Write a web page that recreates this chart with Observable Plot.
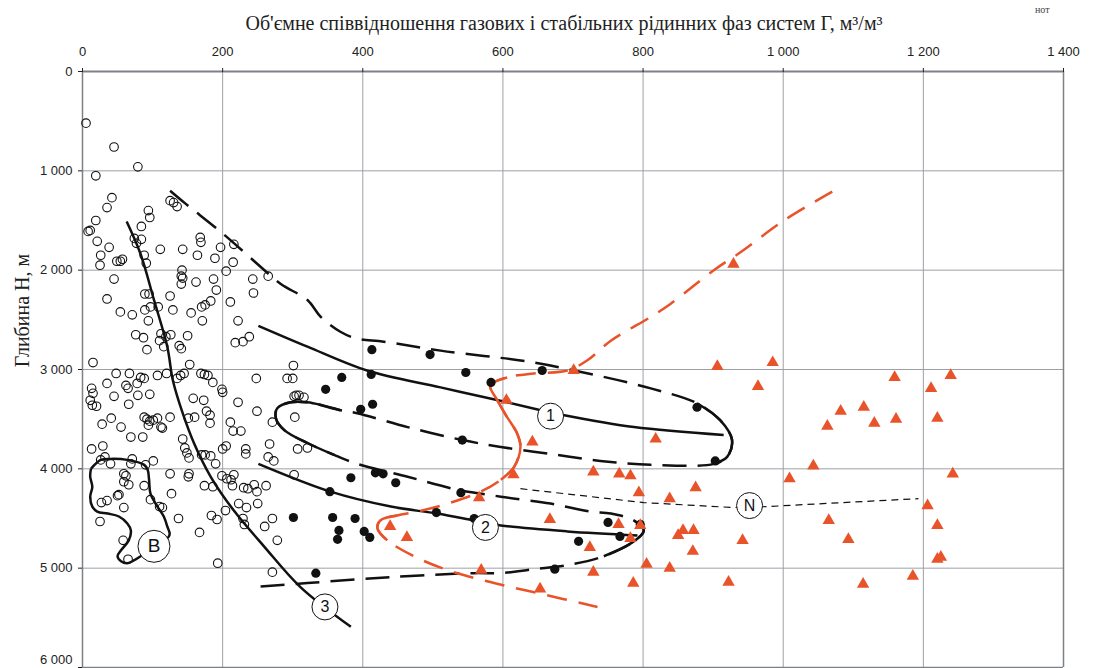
<!DOCTYPE html>
<html>
<head>
<meta charset="utf-8">
<script src="https://cdn.jsdelivr.net/npm/d3@7"></script>
<script src="https://cdn.jsdelivr.net/npm/@observablehq/plot@0.6"></script>
<style>
  html, body { margin: 0; padding: 0; background: #fff; }
</style>
</head>
<body>
<div id="chart"></div>
<script>
// ---- Axis / text ----
const xTicks = [0, 200, 400, 600, 800, 1000, 1200, 1400];
const yTicks = [0, 1000, 2000, 3000, 4000, 5000, 6000];
const titleText = "Об'ємне співвідношення газових і стабільних рідинних фаз систем Г, м³/м³";
const yLabelText = "Глибина Н, м";

// ---- Open circles (x = Г, y = depth H) ----
const openCircles = [
[5,520],[45,760],[79,960],[19,1050],[42,1270],[35,1370],[19,1500],[11,1600],[8,1610],[21,1710],[38,1770],[26,1850],[25,1950],[49,1910],[54,1910],[57,1890],[45,2090],[35,2290],[54,2420],[71,2450],[15,2930],[48,3040],[67,3040],[83,3080],[88,3090],[94,1400],[96,1470],[84,1560],[84,1690],[74,1680],[77,1730],[88,1850],[91,1930],[89,2240],[95,2240],[89,2400],[97,2370],[94,2510],[108,2370],[76,2650],[87,2680],[92,2800],[111,1790],[125,1300],[130,1320],[135,1360],[125,2260],[129,2400],[112,2640],[119,2670],[126,2650],[110,2710],[116,2770],[142,2000],[141,2060],[143,2080],[141,2140],[143,1790],[168,1670],[169,1720],[164,1850],[162,2120],[155,2430],[170,2370],[175,2350],[183,2310],[171,2510],[150,2660],[138,2760],[141,2790],[153,2950],[140,3060],[145,3040],[135,3090],[169,3040],[174,3050],[179,3060],[120,3040],[107,3060],[189,1880],[187,2090],[191,2200],[197,1770],[205,2010],[215,1920],[216,1740],[211,2320],[222,2510],[218,2730],[229,2720],[238,2670],[243,2090],[244,2230],[265,2060],[248,3090],[292,3090],[300,3090],[301,2960],
[35,3140],[13,3190],[15,3240],[11,3310],[14,3360],[20,3370],[62,3160],[65,3190],[78,3140],[45,3270],[79,3260],[96,3250],[66,3350],[28,3550],[41,3490],[55,3580],[69,3680],[86,3680],[88,3480],[92,3500],[96,3520],[101,3510],[94,3560],[107,3490],[112,3580],[114,3590],[125,3480],[158,3290],[173,3310],[186,3130],[199,3200],[200,3230],[222,3330],[249,3420],[177,3420],[182,3460],[182,3540],[151,3490],[160,3480],[143,3700],[146,3790],[149,3840],[152,3890],[170,3860],[175,3860],[183,3870],[190,3950],[211,3530],[215,3620],[226,3620],[205,3770],[200,3800],[233,3800],[233,3850],[199,4070],[206,4100],[212,4110],[216,4060],[214,4170],[230,4190],[236,4200],[245,4160],[249,4230],[262,4170],[174,4170],[186,4180],[223,4350],[234,4390],[250,4350],[229,4500],[231,4560],[271,4500],[260,4580],[278,4720],[184,4470],[192,4510],[204,4420],[167,4640],[137,4500],[127,4250],[125,4050],[151,4080],[152,4050],[193,4950],[271,5040],[13,3800],[26,3910],[32,3880],[29,3770],[40,3950],[71,3900],[69,3950],[90,3960],[101,3920],[59,4050],[62,4070],[66,4160],[59,4130],[88,4170],[50,4270],[52,4260],[59,4390],[27,4340],[35,4320],[25,4530],[97,4310],[110,4380],[114,4390],[58,4720],[65,4910],[305,3260],[302,3270],[271,3530],[303,3480],[267,3750],[265,3880],[273,3920],[307,3800],[302,4060],[309,3260],[316,3280],[321,3790]
];

// ---- Filled black dots ----
const filledDots = [
[413,2800],[496,2850],[547,3030],[583,3130],[656,3010],[370,3080],[347,3200],[412,3050],[414,3350],[397,3400],[542,3710],[418,4040],[429,4050],[447,4140],[383,4090],[353,4230],[540,4240],[505,4440],[559,4500],[301,4490],[357,4490],[389,4500],[366,4620],[364,4710],[402,4630],[410,4690],[333,5050],[877,3380],[903,3920],[750,4540],[767,4680],[796,4560],[708,4730],[674,5010]
];

// ---- Orange triangles ----
const triangles = [
[605,3310],[701,3010],[642,3730],[615,4060],[818,3700],[906,2970],[985,2930],[964,3170],[729,4030],[766,4050],[782,4070],[794,4240],[838,4300],[875,4190],[1009,4100],[667,4510],[765,4560],[796,4570],[782,4700],[724,4790],[857,4620],[872,4620],[850,4670],[942,4720],[871,4830],[805,4960],[838,5000],[729,5040],[786,5150],[922,5140],[653,5210],[566,4290],[439,4580],[463,4690],[569,5020],[1159,3080],[1239,3060],[1211,3190],[1082,3420],[1115,3380],[1063,3570],[1130,3540],[1161,3500],[1220,3490],[1043,3970],[1242,4050],[1206,4370],[1065,4520],[1220,4570],[1093,4710],[1220,4910],[1225,4890],[1185,5080],[1114,5160],[929,1940]
];

// ---- Curves ----
const curve1 = [[251,2560],[321,2770],[406,3010],[511,3180],[606,3330],[654,3410],[687,3460],[787,3580],[915,3660]];
const curve2 = [[251,3950],[354,4230],[440,4380],[506,4450],[559,4520],[597,4570],[692,4630],[792,4670]];
const curve3 = [[63,1510],[83,1840],[102,2300],[121,2770],[129,3110],[143,3440],[159,3740],[183,4080],[216,4420],[259,4780],[311,5190],[383,5590]];
const curveN = [[625,4200],[801,4340],[929,4390],[977,4380],[1193,4300]];
const blobB = [[12,4000],[26,3910],[40,3900],[64,3910],[88,3960],[93,4010],[95,4110],[97,4250],[107,4380],[116,4480],[121,4580],[124,4670],[83,4880],[74,4920],[64,4950],[55,4930],[50,4880],[55,4820],[66,4720],[69,4620],[64,4550],[52,4480],[36,4450],[21,4430],[14,4380],[11,4280],[14,4180],[11,4080],[12,4000]];

// black serpentine envelope (dashed) and its solid turns
const envelope = [[125,1200],[147,1330],[200,1630],[250,1940],[283,2140],[321,2300],[340,2470],[368,2620],[392,2690],[430,2720],[511,2810],[635,2920],[715,3030],[811,3190],[877,3340],[910,3510],[927,3710],[920,3880],[901,3950],[811,3960],[739,3920],[668,3850],[597,3780],[542,3710],[464,3580],[392,3440],[368,3410],[321,3330],[297,3330],[278,3390],[276,3490],[288,3610],[321,3740],[359,3860],[392,3950],[464,4080],[535,4210],[597,4280],[668,4350],[725,4430],[754,4450],[787,4520],[801,4620],[787,4730],[744,4880],[692,4970],[644,5010],[597,5050],[559,5050],[440,5090],[321,5150],[245,5190]];
const envelopeSolidA = [[877,3340],[910,3510],[927,3710],[920,3880],[901,3950]];
const envelopeSolidB = [[368,3410],[321,3330],[297,3330],[278,3390],[276,3490],[288,3610],[321,3740],[359,3860]];
const envelopeSolidC = [[787,4520],[801,4620],[787,4730],[744,4880]];

// orange boundary (dashed) and its solid bends
const orange = [[1070,1210],[1001,1500],[939,1820],[901,2000],[839,2340],[811,2470],[754,2710],[720,2910],[692,3010],[644,3040],[606,3080],[582,3160],[592,3310],[606,3480],[620,3640],[625,3780],[616,3980],[597,4110],[568,4230],[521,4350],[478,4430],[449,4470],[425,4520],[421,4600],[435,4720],[473,4880],[521,5020],[582,5140],[649,5250],[735,5390]];
const orangeSolidA = [[606,3080],[582,3160],[592,3310],[606,3480],[620,3640],[625,3780],[616,3980],[597,4110]];
const orangeSolidB = [[449,4470],[425,4520],[421,4600],[435,4720]];

// ---- Curve labels ----
const labelTexts = ["1", "2", "3", "N"];
const labelX = [668, 575, 346, 952];
const labelY = [3470, 4590, 5390, 4370];
const labelBText = "B";
const labelBX = 102, labelBY = 4780;

// ---- Build ----
const fmt = d => d >= 1000 ? String(d).replace(/(\d)(\d{3})$/, "$1 $2") : String(d);
const X = d => d[0], Y = d => d[1];
const ORANGE = "#e9532a";
const labels = labelTexts.map((t, i) => ({t, x: labelX[i], y: labelY[i]}));
const lastY = yTicks[yTicks.length - 1];

const line = (data, o) => Plot.line(data, {x: X, y: Y, curve: "catmull-rom", strokeWidth: 2.5, strokeLinecap: "butt", ...o});

const chart = Plot.plot({
  width: 1097,
  height: 668,
  marginTop: 71,
  marginLeft: 82,
  marginRight: 34,
  marginBottom: 1,
  style: {fontFamily: "'Liberation Sans', Arial, sans-serif", fontSize: "13px", color: "#222", background: "#fff"},
  x: {domain: [0, 1400]},
  y: {domain: [0, 6000], reverse: true},
  marks: [
    Plot.gridX(xTicks, {stroke: "#9ca0a6", strokeOpacity: 1, strokeWidth: 1}),
    Plot.gridY(yTicks, {stroke: "#9ca0a6", strokeOpacity: 1, strokeWidth: 1}),
    Plot.ruleY([0], {stroke: "#7d8085", strokeWidth: 2}),
    Plot.ruleY([6000], {stroke: "#7d8085", strokeWidth: 1.5}),
    Plot.ruleX([0], {stroke: "#7d8085", strokeWidth: 1.5}),
    Plot.ruleX([1400], {stroke: "#7d8085", strokeWidth: 1.5}),
    Plot.axisX({anchor: "top", ticks: xTicks, tickFormat: fmt, tickSize: 4, tickPadding: 12, label: null, fontSize: 13}),
    Plot.axisY({anchor: "left", ticks: yTicks, tickFormat: d => d === lastY ? "" : fmt(d), tickSize: 4, tickPadding: 6, label: null, fontSize: 13}),
    Plot.text([lastY], {x: () => 0, y: d => d, text: fmt, textAnchor: "end", lineAnchor: "bottom", dx: -10, dy: -4, fontSize: 13, fill: "#222"}),
    Plot.text([titleText], {frameAnchor: "top", dx: -9, dy: -56, fontFamily: "'Liberation Serif', 'Times New Roman', serif", fontSize: 20, fill: "#222"}),
    Plot.text([yLabelText], {frameAnchor: "left", textAnchor: "middle", rotate: -90, dx: -60, dy: -59, fontFamily: "'Liberation Serif', 'Times New Roman', serif", fontSize: 20, fill: "#222"}),
    Plot.text(["нот"], {frameAnchor: "top-right", dx: -14, dy: -66, fontFamily: "'Liberation Serif', serif", fontSize: 10, fill: "#444"}),

    Plot.dot(openCircles, {x: X, y: Y, r: 4.3, stroke: "#111", strokeWidth: 1.1, fill: "none"}),

    line(curve3, {stroke: "#111"}),
    line(curve1, {stroke: "#111"}),
    line(curve2, {stroke: "#111"}),
    line(blobB, {stroke: "#111"}),
    line(envelope, {stroke: "#111", strokeDasharray: "24,11"}),
    line(envelopeSolidA, {stroke: "#111"}),
    line(envelopeSolidB, {stroke: "#111"}),
    line(envelopeSolidC, {stroke: "#111"}),
    line(curveN, {stroke: "#111", strokeWidth: 1.2, strokeDasharray: "7,5", curve: "linear"}),
    line(orange, {stroke: ORANGE, strokeDasharray: "20,12"}),
    line(orangeSolidA, {stroke: ORANGE}),
    line(orangeSolidB, {stroke: ORANGE}),

    Plot.dot(filledDots, {x: X, y: Y, r: 4.6, fill: "#111"}),
    Plot.dot(triangles, {x: X, y: Y, symbol: "triangle", r: 4.6, fill: ORANGE}),

    Plot.dot(labels, {x: "x", y: "y", r: 13, fill: "#fff", stroke: "#111", strokeWidth: 1}),
    Plot.text(labels, {x: "x", y: "y", text: "t", fontSize: 16, fill: "#111"}),
    Plot.dot([labelBText], {x: () => labelBX, y: () => labelBY, r: 16, fill: "#fff", stroke: "#111", strokeWidth: 1}),
    Plot.text([labelBText], {x: () => labelBX, y: () => labelBY, text: d => d, fontSize: 19, fill: "#111"})
  ]
});
document.getElementById("chart").append(chart);
</script>
</body>
</html>
